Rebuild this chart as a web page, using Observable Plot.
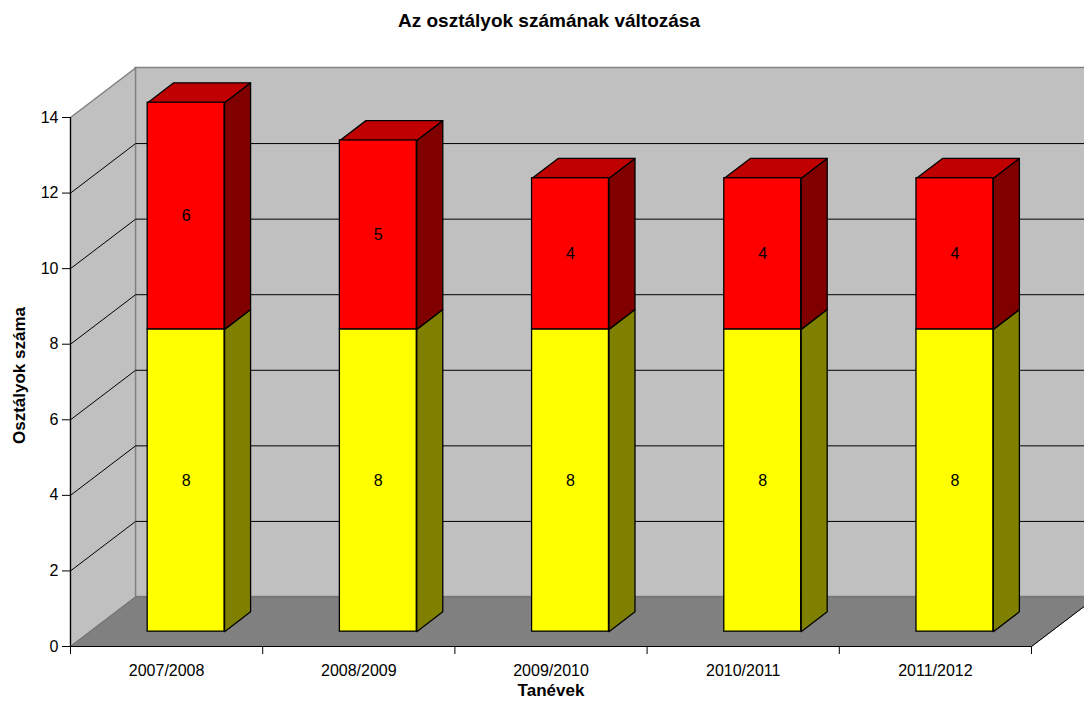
<!DOCTYPE html>
<html>
<head>
<meta charset="utf-8">
<script src="https://cdn.jsdelivr.net/npm/d3@7"></script>
<script src="https://cdn.jsdelivr.net/npm/@observablehq/plot@0.6"></script>
<style>
  html, body { margin: 0; padding: 0; background: #fff; overflow: hidden; }
  #title { width: 1084px; height: 50px; box-sizing: border-box; padding-top: 11px; padding-left: 14px;
    text-align: center; font: bold 19px/19px "Liberation Sans", Arial, sans-serif; color: #000; }
</style>
</head>
<body>
<div id="title">Az osztályok számának változása</div>
<div id="chart"></div>
<script>
// ---- data ----
const years = ["2007/2008", "2008/2009", "2009/2010", "2010/2011", "2011/2012"];
const lower = [8, 8, 8, 8, 8];   // yellow segment
const upper = [6, 5, 4, 4, 4];   // red segment
const yTicks = [0, 2, 4, 6, 8, 10, 12, 14];
const yMax = 14;

// ---- 3D geometry (depth offset expressed in scale units) ----
const n = years.length;
const DX = 65 / 192;      // full depth along x, in category units
const DY = 49.5 / 37.786; // full depth along y, in value units
const F0 = 0.3, F1 = 0.7; // bar depth span (fraction of full depth)
const W0 = 0.3, W1 = 0.7; // bar width span within category band
const P = (x, v, f) => ({x: x + f * DX, y: v + f * DY});

function poly(id, pts) {
  const a = pts.map(p => ({id, ...p}));
  a.push({...a[0]});
  return a;
}

// walls and floor
const leftWall = poly("lw", [P(0, 0, 0), P(0, 0, 1), P(0, yMax, 1), P(0, yMax, 0)]);
const floor = poly("fl", [P(0, 0, 0), P(n, 0, 0), P(n, 0, 1), P(0, 0, 1)]);
const backWall = [{x1: P(0, 0, 1).x, x2: P(n, 0, 1).x, y1: P(0, 0, 1).y, y2: P(0, yMax, 1).y}];
const grid = yTicks.filter(v => v > 0 && v < yMax);
const gridLeft = grid.map(v => ({a: P(0, v, 0), b: P(0, v, 1)}));
const gridBack = grid.map(v => ({a: P(0, v, 1), b: P(n, v, 1)}));

// bar segments
const segs = [];
years.forEach((yr, i) => {
  segs.push({i, s: "lower", v0: 0, v1: lower[i], val: lower[i]});
  segs.push({i, s: "upper", v0: lower[i], v1: lower[i] + upper[i], val: upper[i]});
});
const fronts = segs.map(d => ({
  ...d,
  x1: P(d.i + W0, 0, F0).x, x2: P(d.i + W1, 0, F0).x,
  y1: P(0, d.v0, F0).y, y2: P(0, d.v1, F0).y,
  lx: P(d.i + 0.5, 0, F0).x, ly: P(0, (d.v0 + d.v1) / 2, F0).y
}));
const sides = s => segs.filter(d => d.s === s).flatMap((d, k) =>
  poly(s + k, [P(d.i + W1, d.v0, F0), P(d.i + W1, d.v0, F1), P(d.i + W1, d.v1, F1), P(d.i + W1, d.v1, F0)]));
const tops = segs.filter(d => d.s === "upper").flatMap((d, k) =>
  poly("t" + k, [P(d.i + W0, d.v1, F0), P(d.i + W1, d.v1, F0), P(d.i + W1, d.v1, F1), P(d.i + W0, d.v1, F1)]));

const colors = {lower: "#ffff00", upper: "#ff0000"};

const chart = Plot.plot({
  width: 1084,
  height: 651,
  marginLeft: 70,
  marginRight: 53,
  marginTop: 67,
  marginBottom: 55,
  style: {fontFamily: "'Liberation Sans', Arial, sans-serif", fontSize: "16px", background: "#fff", overflow: "hidden", color: "#000"},
  x: {domain: [0, n]},
  y: {domain: [0, yMax]},
  marks: [
    // back wall
    Plot.rect(backWall, {x1: "x1", x2: "x2", y1: "y1", y2: "y2", fill: "#c0c0c0", stroke: "#808080", strokeWidth: 1.5}),
    // left wall
    Plot.line(leftWall, {x: "x", y: "y", z: "id", fill: "#c0c0c0", stroke: "#808080", strokeWidth: 1.5}),
    // floor
    Plot.line(floor, {x: "x", y: "y", z: "id", fill: "#808080", stroke: "#707070", strokeWidth: 1}),
    // gridlines
    Plot.link(gridLeft, {x1: d => d.a.x, y1: d => d.a.y, x2: d => d.b.x, y2: d => d.b.y, stroke: "#000", strokeWidth: 1}),
    Plot.link(gridBack, {x1: d => d.a.x, y1: d => d.a.y, x2: d => d.b.x, y2: d => d.b.y, stroke: "#000", strokeWidth: 1}),
    // floor right edge
    Plot.link([{a: P(n, 0, 0), b: P(n, 0, 1)}], {x1: d => d.a.x, y1: d => d.a.y, x2: d => d.b.x, y2: d => d.b.y, stroke: "#000", strokeWidth: 1}),
    // axis lines
    Plot.ruleY([0], {x1: 0, x2: n, stroke: "#000", strokeWidth: 1.2}),
    Plot.ruleX([0], {y1: 0, y2: yMax, stroke: "#000", strokeWidth: 1.2}),
    // bars: side faces
    Plot.line(sides("lower"), {x: "x", y: "y", z: "id", fill: "#808000", stroke: "#000", strokeWidth: 1.3}),
    Plot.line(sides("upper"), {x: "x", y: "y", z: "id", fill: "#800000", stroke: "#000", strokeWidth: 1.3}),
    // top faces
    Plot.line(tops, {x: "x", y: "y", z: "id", fill: "#c00000", stroke: "#000", strokeWidth: 1.3}),
    // front faces
    Plot.rect(fronts, {x1: "x1", x2: "x2", y1: "y1", y2: "y2", fill: d => colors[d.s], stroke: "#000", strokeWidth: 1.3}),
    // value labels
    Plot.text(fronts, {x: "lx", y: "ly", text: d => String(d.val), fill: "#000", fontSize: 16}),
    // axes
    Plot.axisY(yTicks, {tickSize: 8, tickPadding: 4, label: null, fontSize: 16, stroke: "#000"}),
    Plot.axisX(d3.range(n + 1), {tickSize: 8, tickFormat: () => "", label: null, stroke: "#000"}),
    Plot.axisX(years.map((_, i) => i + 0.5), {tickSize: 0, tickPadding: 18, tickFormat: d => years[Math.floor(d)], label: null, fontSize: 16}),
    // axis titles
    Plot.text(["Tanévek"], {frameAnchor: "bottom", lineAnchor: "middle", textAnchor: "middle", dy: 44.5, text: d => d, fontWeight: "bold", fontSize: 17}),
    Plot.text(["Osztályok száma"], {frameAnchor: "left", lineAnchor: "middle", textAnchor: "middle", rotate: -90, dx: -51.4, dy: -6.5, text: d => d, fontWeight: "bold", fontSize: 17})
  ]
});
document.getElementById("chart").appendChild(chart);
</script>
</body>
</html>
